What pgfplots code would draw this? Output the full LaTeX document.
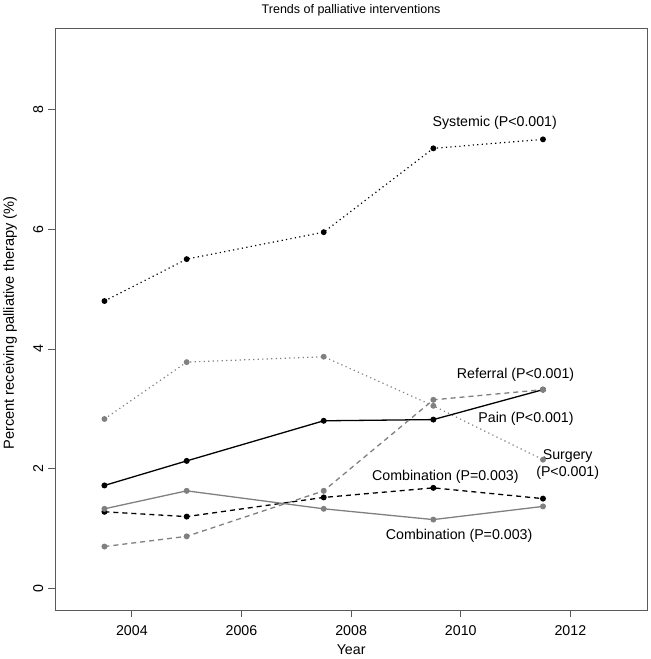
\documentclass[border=0pt]{standalone}
\usepackage{pgfplots}
\pgfplotsset{compat=1.18}
\usepackage{fontspec}
\setmainfont{Liberation Sans}
\definecolor{ptgray}{RGB}{128,128,128}
\definecolor{axgray}{RGB}{90,90,90}
\begin{document}
\begin{tikzpicture}
\begin{axis}[
  name=ax,
  scale only axis,
  width=592bp, height=582bp,
  xmin=2002.6, xmax=2013.4,
  ymin=-0.36, ymax=9.36,
  xtick={2004,2006,2008,2010,2012},
  ytick={0,2,4,6,8},
  xtick pos=left, ytick pos=left,
  tick align=outside,
  major tick length=7bp,
  axis line style={axgray, line width=0.9bp},
  tick style={axgray, line width=0.8bp},
  x tick label style={/pgf/number format/.cd, 1000 sep={}, /tikz/.cd, anchor=center, yshift=-14bp},
  y tick label style={rotate=90, anchor=center, yshift=10bp},
  /pgf/number format/assume math mode=true,
  ticklabel style={font=\fontsize{14.2bp}{16bp}\selectfont},
  clip=false,
]
% Systemic
\addplot[black, line width=1.2bp, dash pattern=on 1.2bp off 3.3bp, mark=*, mark size=2.3bp, mark options={solid}] coordinates {
(2003.5,4.80) (2005,5.50) (2007.5,5.95) (2009.5,7.35) (2011.5,7.50)};
% Surgery
\addplot[ptgray, line width=1.2bp, dash pattern=on 1.2bp off 3.3bp, mark=*, mark size=2.3bp, mark options={solid}] coordinates {
(2003.5,2.83) (2005,3.78) (2007.5,3.87) (2009.5,3.05) (2011.5,2.15)};
% Pain
\addplot[black, line width=1.3bp, mark=*, mark size=2.3bp] coordinates {
(2003.5,1.72) (2005,2.13) (2007.5,2.80) (2009.5,2.82) (2011.5,3.32)};
% Referral
\addplot[ptgray, line width=1.3bp, dash pattern=on 5bp off 4bp, mark=*, mark size=2.3bp, mark options={solid}] coordinates {
(2003.5,0.70) (2005,0.87) (2007.5,1.63) (2009.5,3.15) (2011.5,3.32)};
% Combination black dashed
\addplot[black, line width=1.3bp, dash pattern=on 5bp off 4bp, mark=*, mark size=2.3bp, mark options={solid}] coordinates {
(2003.5,1.28) (2005,1.20) (2007.5,1.52) (2009.5,1.68) (2011.5,1.50)};
% Combination gray solid
\addplot[ptgray, line width=1.3bp, mark=*, mark size=2.3bp] coordinates {
(2003.5,1.33) (2005,1.63) (2007.5,1.33) (2009.5,1.15) (2011.5,1.37)};

\begin{scope}[every node/.style={font=\fontsize{14.2bp}{17bp}\selectfont}]
\node at (axis cs:2010.62,7.78) {Systemic (P<0.001)};
\node at (axis cs:2011.0,3.57) {Referral (P<0.001)};
\node at (axis cs:2011.19,2.83) {Pain (P<0.001)};
\node[align=center] at (axis cs:2011.95,2.07) {Surgery\\(P<0.001)};
\node at (axis cs:2009.72,1.87) {Combination (P=0.003)};
\node at (axis cs:2009.97,0.88) {Combination (P=0.003)};
\end{scope}
\end{axis}
\node[font=\fontsize{12.5bp}{14bp}\selectfont] at ([yshift=18bp]ax.north) {Trends of palliative interventions};
\node[font=\fontsize{14.2bp}{16bp}\selectfont] at ([yshift=-40bp]ax.south) {Year};
\node[font=\fontsize{14.6bp}{16bp}\selectfont, rotate=90] at ([xshift=-45bp,yshift=-4bp]ax.west) {Percent receiving palliative therapy (\%)};
\path ([xshift=-55bp,yshift=-49bp]ax.south west) rectangle ([xshift=3bp,yshift=28bp]ax.north east);
\end{tikzpicture}
\end{document}
